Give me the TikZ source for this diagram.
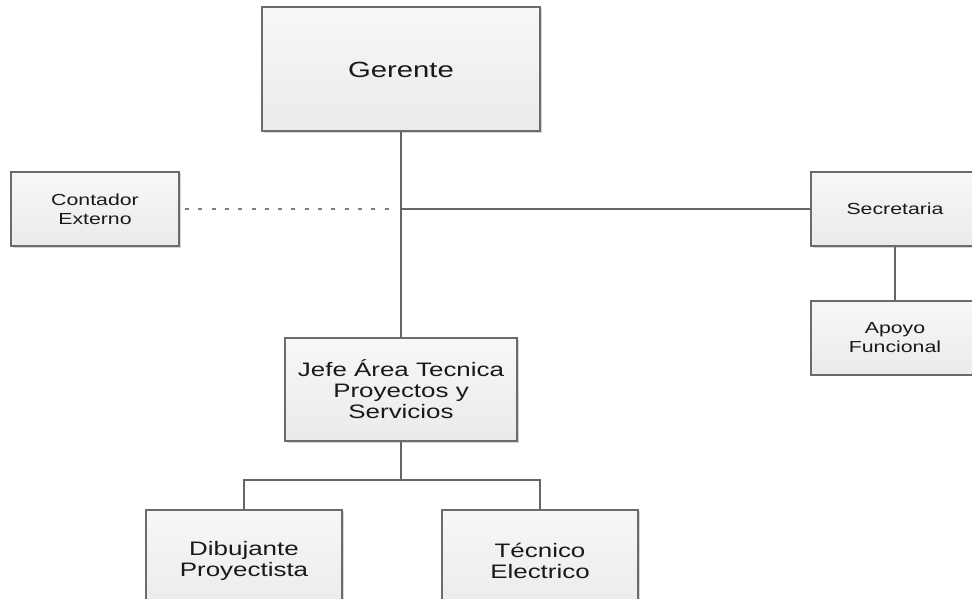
\documentclass[tikz,border=0pt]{standalone}
\usepackage{fontspec}
\setmainfont[FakeStretch=1.33]{Liberation Sans}
\usetikzlibrary{positioning,shadows}

\begin{document}
\begin{tikzpicture}[x=1pt, y=-1pt]
        \tikzstyle{box} = [rectangle, draw=black!58, line width=2pt, top color=white!97!black, bottom color=black!8, text=black!90, align=center, inner sep=0pt, drop shadow={shadow xshift=1.5pt, shadow yshift=-1.5pt, fill=black!40, opacity=0.4}]
        \tikzstyle{grande} = [box, minimum width=278pt, minimum height=124pt, font=\fontsize{22}{24}\selectfont]
        \tikzstyle{media} = [box, minimum width=232pt, minimum height=103pt, font=\fontsize{19.5}{21}\selectfont]
        \tikzstyle{chica} = [box, minimum width=168pt, minimum height=74pt, font=\fontsize{16}{19}\selectfont]
        \tikzstyle{linea} = [draw=black!60, line width=2pt]
        \tikzstyle{puntos} = [draw=black!50, line width=2pt, dash pattern=on 4pt off 9.3pt]

        \useasboundingbox (0,0) rectangle (972,599);
        \clip (0,0) rectangle (972,599);

        \node (gerente) [grande] at (401,69.5) {Gerente};
        \node (contador) [chica] at (95,209) {Contador\\Externo};
        \node (secretaria) [chica] at (895,209) {Secretaria};
        \node (apoyo) [chica] at (895,337.5) {Apoyo\\Funcional};
        \node (jefe) [media] at (401,389.5) {Jefe Área Tecnica\\Proyectos y\\Servicios};
        \node (dibujante) [media, minimum width=196pt] at (244,561) {Dibujante\\Proyectista};
        \node (tecnico) [media, minimum width=196pt] at (540,561) {Técnico\\Electrico};

        \coordinate (cruce) at (gerente.south |- secretaria.west);

        \draw [linea] (gerente) -- (jefe);
        \draw [linea] (cruce) -- (secretaria);
        \draw [puntos] ([xshift=5pt]contador.east) -- ([xshift=-6pt]cruce);
        \draw [linea] (secretaria) -- (apoyo);
        \draw [linea] (jefe.south) -- +(0,38) -| (dibujante);
        \draw [linea] (jefe.south) -- +(0,38) -| (tecnico);
\end{tikzpicture}
\end{document}
